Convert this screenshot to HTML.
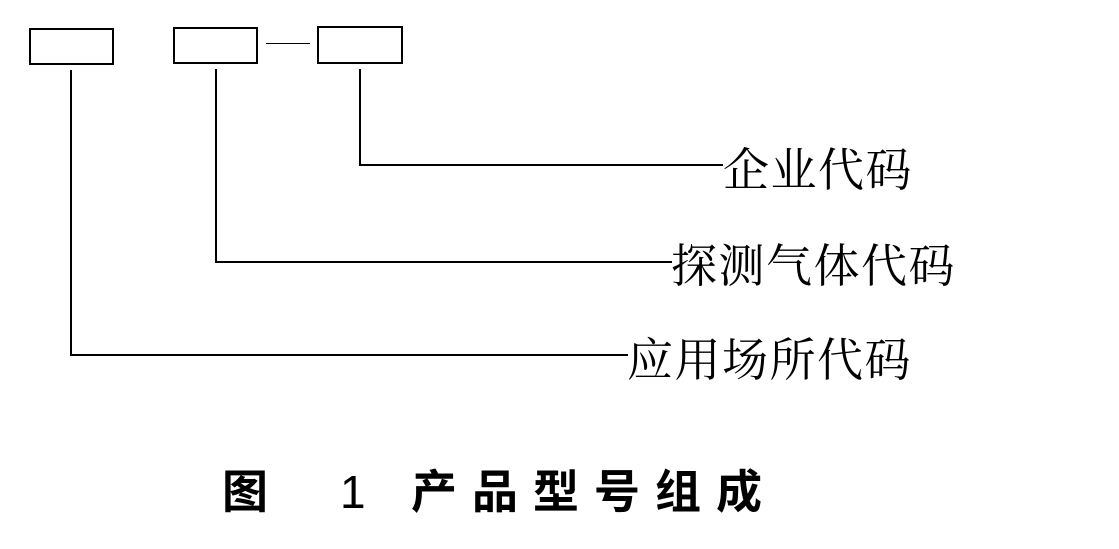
<!DOCTYPE html>
<html><head><meta charset="utf-8"><style>
html,body{margin:0;padding:0;background:#fff;}
body{width:1119px;height:549px;position:relative;overflow:hidden;}
.b{position:absolute;border:2px solid #000;box-sizing:border-box;}
.l{position:absolute;background:#000;}
.t{position:absolute;font-family:"Noto Serif CJK SC","Liberation Serif",serif;font-size:46px;line-height:46px;letter-spacing:1.5px;white-space:nowrap;color:#000;}
.h{position:absolute;font-family:"Liberation Sans","Noto Sans CJK SC",sans-serif;font-size:46px;line-height:46px;font-weight:bold;white-space:nowrap;color:#000;}
</style></head><body>
<div class="b" style="left:29px;top:28px;width:85px;height:37px"></div>
<div class="b" style="left:173px;top:27px;width:85px;height:37px"></div>
<div class="l" style="left:266px;top:43px;width:44px;height:1px"></div>
<div class="b" style="left:317px;top:26px;width:86px;height:38px"></div>

<div class="l" style="left:70px;top:70px;width:2px;height:286px"></div>
<div class="l" style="left:70px;top:354px;width:558px;height:2px"></div>
<div class="l" style="left:215px;top:69px;width:2px;height:194px"></div>
<div class="l" style="left:215px;top:261px;width:457px;height:2px"></div>
<div class="l" style="left:359px;top:69px;width:2px;height:97px"></div>
<div class="l" style="left:359px;top:164px;width:364px;height:2px"></div>

<div class="t" style="left:723px;top:144px">企业代码</div>
<div class="t" style="left:671px;top:240px">探测气体代码</div>
<div class="t" style="left:627px;top:334px">应用场所代码</div>

<div class="h" style="left:222px;top:469px">图</div>
<div class="h" style="left:340px;top:469px;font-weight:normal">1</div>
<div class="h" style="left:411px;top:469px;letter-spacing:15px">产品型号组成</div>
</body></html>
